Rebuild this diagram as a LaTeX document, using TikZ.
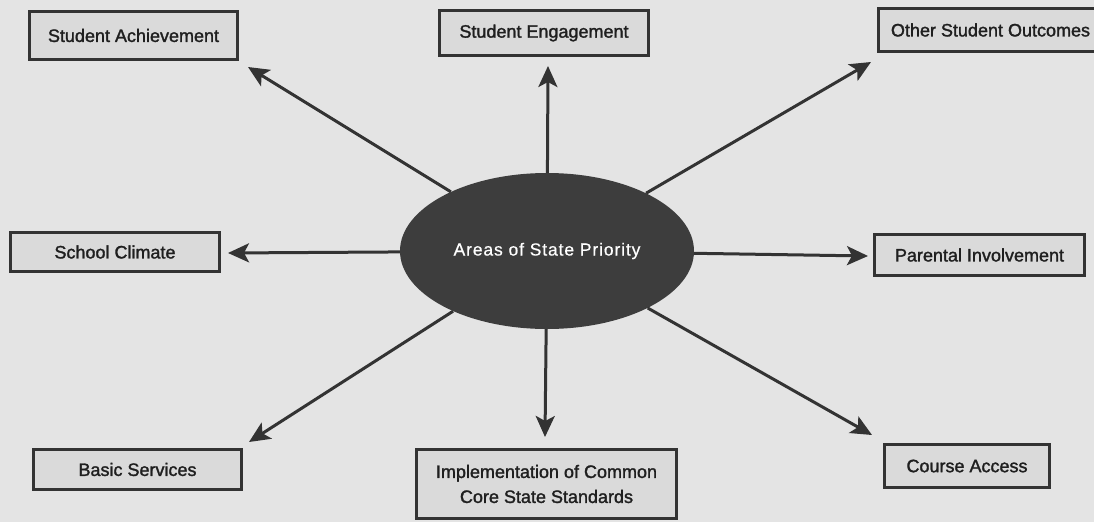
\documentclass[tikz,border=0pt]{standalone}
\usepackage{fontspec}
\setmainfont[FakeBold=1.6]{Liberation Sans}
\newfontfamily\ellfont[LetterSpace=5,FakeBold=0.6]{Liberation Sans}
\usetikzlibrary{arrows.meta,shapes.geometric}
\definecolor{ink}{HTML}{333333}
\definecolor{bg}{HTML}{E4E4E4}
\definecolor{boxfill}{HTML}{DADADA}
\tikzset{
  areabox/.style={draw=ink, line width=3pt, fill=boxfill, rectangle, inner sep=0pt,
    text=black!88, font=\fontsize{18}{25}\selectfont, align=center},
  hub/.style={ellipse, fill=ink!95, inner sep=0pt, minimum width=294pt, minimum height=156pt,
    text=white, font=\ellfont\fontsize{17.5}{20}\selectfont},
  conn/.style={draw=ink, line width=3pt, -{Stealth[length=21pt,width=19pt,inset=5pt]}}
}
\begin{document}
\begin{tikzpicture}[x=1pt,y=-1pt]
\useasboundingbox[fill=bg] (0,0) rectangle (1094,522);
\node[hub] (hub) at (547,251) {Areas of State Priority};
\node[areabox, minimum width=208pt, minimum height=48pt] (sa) at (133.5,35.5) {Student Achievement};
\node[areabox, minimum width=209pt, minimum height=45pt] (se) at (544,33) {Student Engagement};
\node[areabox, minimum width=224pt, minimum height=43pt] (oso) at (990.5,30) {Other Student Outcomes};
\node[areabox, minimum width=209pt, minimum height=39pt] (sc) at (115,252) {School Climate};
\node[areabox, minimum width=210pt, minimum height=41pt] (pi) at (979.5,255) {Parental Involvement};
\node[areabox, minimum width=208pt, minimum height=40pt] (bs) at (137.5,469.5) {Basic Services};
\node[areabox, minimum width=260pt, minimum height=69pt] (impl) at (546.5,484) {Implementation of Common\\Core State Standards};
\node[areabox, minimum width=165pt, minimum height=43pt] (ca) at (967,466) {Course Access};
\coordinate (tsa) at (248,67);
\coordinate (tse) at (548,66);
\coordinate (toso) at (871,62);
\coordinate (tsc) at (228,253);
\coordinate (tpi) at (868,256);
\coordinate (tbs) at (249,442);
\coordinate (timpl) at (545,437);
\coordinate (tca) at (872,435);
\draw[conn] (hub) -- (tsa);
\draw[conn] (hub) -- (tse);
\draw[conn] (hub) -- (toso);
\draw[conn] (hub) -- (tsc);
\draw[conn] (hub) -- (tpi);
\draw[conn] (hub) -- (tbs);
\draw[conn] (hub) -- (timpl);
\draw[conn] (hub) -- (tca);
\end{tikzpicture}
\end{document}
